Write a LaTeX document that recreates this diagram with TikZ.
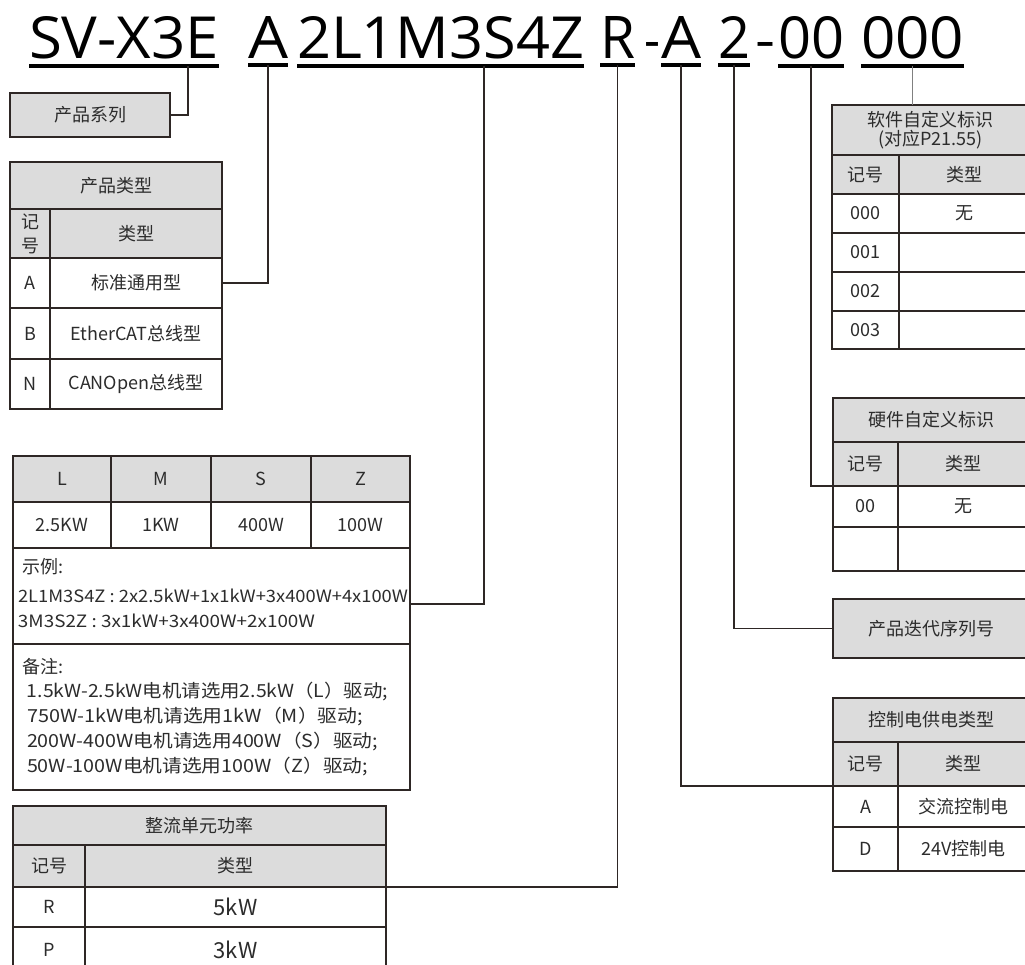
\documentclass[tikz,border=0pt]{standalone}
\usepackage{fontspec}
\usepackage{graphicx}
\setmainfont{Noto Sans CJK SC}
\newfontfamily\ttlfont{Open Sans}
\usetikzlibrary{positioning}

\definecolor{linec}{HTML}{2E2725}
\definecolor{hdgray}{HTML}{DCDCDC}
\definecolor{txtc}{HTML}{2C2C2C}

\newcommand{\fitw}[2]{\resizebox{#1}{\height}{#2}}
\newcommand{\ttl}[2]{\resizebox{#1}{42pt}{\ttlfont #2}}

\tikzset{
  box/.style={draw=linec, line width=1.8pt, inner sep=0pt, outer sep=0pt, anchor=north west,
    text=txtc, font=\fontsize{18}{22}\selectfont, align=center},
  hd/.style={box, fill=hdgray},
  cl/.style={box, fill=white},
  sz/.style 2 args={minimum width=#1, minimum height=#2},
  conn/.style={draw=linec, line width=1.8pt},
  uline/.style={line width=4pt, draw=black},
  ttext/.style={anchor=base west, inner sep=0pt, outer sep=0pt, text=black},
  plain/.style={anchor=west, inner sep=0pt, outer sep=0pt, text=txtc, font=\fontsize{18}{22}\selectfont}
}

\begin{document}
\begin{tikzpicture}[x=1pt, y=-1pt]
\useasboundingbox (0,0) rectangle (1025,965);
\fill[white] (0,0) rectangle (1025,965);
\clip (0,0) rectangle (1025,965);

% model code
\node[ttext] (tSeries) at (29,59) {\ttl{190pt}{SV-X3E}};
\node[ttext] (tType) at (248,59) {\ttl{40pt}{A}};
\node[ttext] (tPower) at (297,59) {\ttl{287pt}{2L1M3S4Z}};
\node[ttext] (tRect) at (600,59) {\ttl{35pt}{R}};
\node[ttext] (hyA) at (644,59) {\resizebox{16pt}{16pt}{\ttlfont -}};
\node[ttext] (tCtrl) at (661,59) {\ttl{40pt}{A}};
\node[ttext] (tIter) at (718,59) {\ttl{32pt}{2}};
\node[ttext] (hyB) at (755,59) {\resizebox{20pt}{16pt}{\ttlfont -}};
\node[ttext] (tHw) at (778,59) {\ttl{66pt}{00}};
\node[ttext] (tSw) at (861,59) {\ttl{103pt}{000}};

\foreach \n in {tSeries, tType, tPower, tRect, tCtrl, tIter, tHw, tSw}
  \draw[uline] ([yshift=-6pt]\n.south west) -- ([yshift=-6pt]\n.south east);

% 产品系列
\node[hd, sz={160}{44}] (ps) at (10,93) {产品系列};

% 产品类型
\node[hd, sz={212}{47}] (ptT) at (10,162) {产品类型};
\node[hd, sz={40}{49}] (ptH1) at (10,209) {记\\[2pt]号};
\node[hd, sz={172}{49}] (ptH2) at (50,209) {类型};
\node[cl, sz={40}{50}] (ptA1) at (10,258) {A};
\node[cl, sz={172}{50}] (ptA2) at (50,258) {标准通用型};
\node[cl, sz={40}{51}] (ptB1) at (10,308) {B};
\node[cl, sz={172}{51}] (ptB2) at (50,308) {EtherCAT总线型};
\node[cl, sz={40}{50}] (ptN1) at (10,359) {N};
\node[cl, sz={172}{50}] (ptN2) at (50,359) {CANOpen总线型};

% 功率组合
\node[hd, sz={98}{46}] (lL) at (13,456) {L};
\node[hd, sz={100}{46}] (lM) at (111,456) {M};
\node[hd, sz={100}{46}] (lS) at (211,456) {S};
\node[hd, sz={99}{46}] (lZ) at (311,456) {Z};
\node[cl, sz={98}{46}] (vL) at (13,502) {2.5KW};
\node[cl, sz={100}{46}] (vM) at (111,502) {1KW};
\node[cl, sz={100}{46}] (vS) at (211,502) {400W};
\node[cl, sz={99}{46}] (vZ) at (311,502) {100W};
\node[cl, sz={397}{96}] (ex) at (13,548) {};
\node[cl, sz={397}{146}] (nt) at (13,644) {};
\node[plain] (exT) at (22,567) {示例:};
\node[plain, font=\fontsize{17}{20}\selectfont] (exA) at (18,596) {\fitw{390pt}{2L1M3S4Z : 2x2.5kW+1x1kW+3x400W+4x100W}};
\node[plain, font=\fontsize{17}{20}\selectfont] (exB) at (18,621) {\fitw{297pt}{3M3S2Z : 3x1kW+3x400W+2x100W}};
\node[plain] (ntT) at (22,667) {备注:};
\node[plain] (nt1) at (27,692) {\fitw{361pt}{1.5kW-2.5kW电机请选用2.5kW（L）驱动;}};
\node[plain] (nt2) at (27,717) {\fitw{336pt}{750W-1kW电机请选用1kW（M）驱动;}};
\node[plain] (nt3) at (27,742) {\fitw{351pt}{200W-400W电机请选用400W（S）驱动;}};
\node[plain] (nt4) at (27,766) {\fitw{341pt}{50W-100W电机请选用100W（Z）驱动;}};

% 整流单元功率
\node[hd, sz={373}{39}] (rtT) at (13,806) {整流单元功率};
\node[hd, sz={72}{42}] (rtH1) at (13,845) {记号};
\node[hd, sz={301}{42}] (rtH2) at (85,845) {类型};
\node[cl, sz={72}{40}] (rtR1) at (13,887) {R};
\node[cl, sz={301}{40}, font=\fontsize{22}{24}\selectfont] (rtR2) at (85,887) {5kW};
\node[cl, sz={72}{45}] (rtP1) at (13,927) {P};
\node[cl, sz={301}{45}, font=\fontsize{22}{24}\selectfont] (rtP2) at (85,927) {3kW};

% 软件自定义标识
\node[hd, sz={197}{50}, font=\fontsize{18}{19}\selectfont] (swT) at (832,105) {软件自定义标识\\(对应P21.55)};
\node[hd, sz={67}{39}] (swH1) at (832,155) {记号};
\node[hd, sz={130}{39}] (swH2) at (899,155) {类型};
\node[cl, sz={67}{39}] (sw01) at (832,194) {000};
\node[cl, sz={130}{39}] (sw02) at (899,194) {无};
\node[cl, sz={67}{39}] (sw11) at (832,233) {001};
\node[cl, sz={130}{39}] (sw12) at (899,233) {};
\node[cl, sz={67}{39}] (sw21) at (832,272) {002};
\node[cl, sz={130}{39}] (sw22) at (899,272) {};
\node[cl, sz={67}{38}] (sw31) at (832,311) {003};
\node[cl, sz={130}{38}] (sw32) at (899,311) {};

% 硬件自定义标识
\node[hd, sz={196}{44}] (hwT) at (833,398) {硬件自定义标识};
\node[hd, sz={65}{44}] (hwH1) at (833,442) {记号};
\node[hd, sz={131}{44}] (hwH2) at (898,442) {类型};
\node[cl, sz={65}{41}] (hwR1) at (833,486) {00};
\node[cl, sz={131}{41}] (hwR2) at (898,486) {无};
\node[cl, sz={65}{44}] (hwE1) at (833,527) {};
\node[cl, sz={131}{44}] (hwE2) at (898,527) {};

% 产品迭代序列号
\node[hd, sz={196}{59}] (it) at (833,599) {产品迭代序列号};

% 控制电供电类型
\node[hd, sz={196}{44}] (ctT) at (833,698) {控制电供电类型};
\node[hd, sz={65}{44}] (ctH1) at (833,742) {记号};
\node[hd, sz={131}{44}] (ctH2) at (898,742) {类型};
\node[cl, sz={65}{41}] (ctA1) at (833,786) {A};
\node[cl, sz={131}{41}] (ctA2) at (898,786) {交流控制电};
\node[cl, sz={65}{44}] (ctD1) at (833,827) {D};
\node[cl, sz={131}{44}] (ctD2) at (898,827) {24V控制电};

% leader lines
\draw[conn] ([xshift=64pt,yshift=-6pt]tSeries.south) |- (ps.east);
\draw[conn] ([yshift=-6pt]tType.south) |- (ptA2.east);
\draw[conn] ([xshift=43.5pt,yshift=-6pt]tPower.south) |- ([yshift=-8pt]ex.east);
\draw[conn] ([yshift=-6pt]tRect.south) |- (rtH2.south east);
\draw[conn] ([yshift=-6pt]tCtrl.south) |- (ctA1.north west);
\draw[conn] ([yshift=-6pt]tIter.south) |- (it.west);
\draw[conn] ([yshift=-6pt]tHw.south) |- (hwR1.north west);
\draw[conn, draw=gray] ([yshift=-6pt]tSw.south) -- (tSw.south |- swT.north);

\end{tikzpicture}
\end{document}
